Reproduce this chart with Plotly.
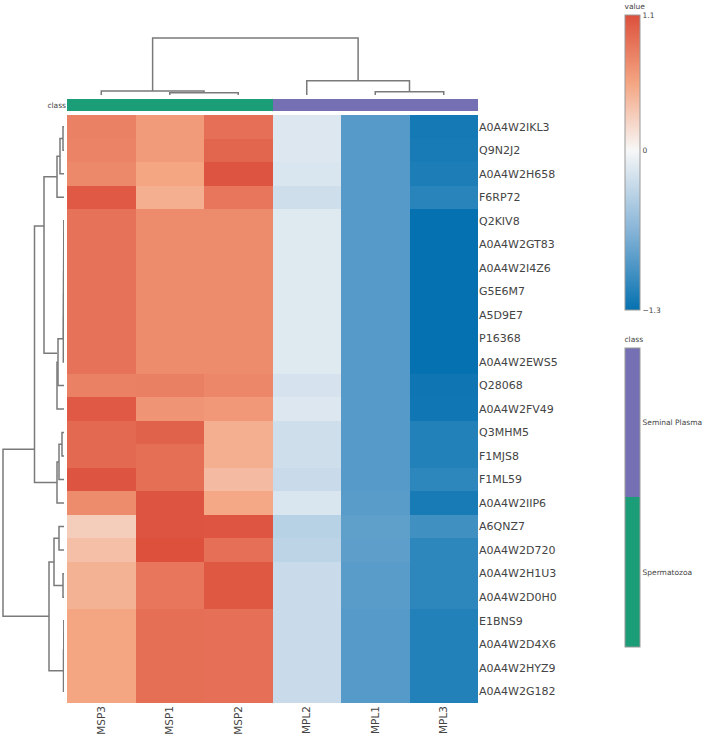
import plotly.graph_objects as go

# ---------------- data ----------------
rows = ["A0A4W2IKL3", "Q9N2J2", "A0A4W2H658", "F6RP72", "Q2KIV8", "A0A4W2GT83",
        "A0A4W2I4Z6", "G5E6M7", "A5D9E7", "P16368", "A0A4W2EWS5", "Q28068",
        "A0A4W2FV49", "Q3MHM5", "F1MJS8", "F1ML59", "A0A4W2IIP6", "A6QNZ7",
        "A0A4W2D720", "A0A4W2H1U3", "A0A4W2D0H0", "E1BNS9", "A0A4W2D4X6",
        "A0A4W2HYZ9", "A0A4W2G182"]
cols = ["MSP3", "MSP1", "MSP2", "MPL2", "MPL1", "MPL3"]
col_class = ["Spermatozoa", "Spermatozoa", "Spermatozoa",
             "Seminal Plasma", "Seminal Plasma", "Seminal Plasma"]

MSP3 = [0.78, 0.76, 0.73, 1.04, 0.87, 0.87, 0.87, 0.87, 0.87, 0.87, 0.87, 0.78, 1.04,
        0.94, 0.94, 1.07, 0.71, 0.28, 0.38, 0.46, 0.46, 0.55, 0.55, 0.55, 0.55]
MSP1 = [0.61, 0.61, 0.55, 0.48, 0.71, 0.71, 0.71, 0.71, 0.71, 0.71, 0.71, 0.79, 0.66,
        0.98, 0.90, 0.90, 1.07, 1.07, 1.10, 0.85, 0.85, 0.90, 0.90, 0.90, 0.90]
MSP2 = [0.89, 0.96, 1.07, 0.85, 0.71, 0.71, 0.71, 0.71, 0.71, 0.71, 0.71, 0.74, 0.63,
        0.48, 0.48, 0.40, 0.53, 1.06, 0.89, 1.05, 1.05, 0.89, 0.89, 0.89, 0.89]
MPL2 = [-0.16, -0.16, -0.17, -0.24, -0.14, -0.14, -0.14, -0.14, -0.14, -0.14, -0.14, -0.19, -0.16,
        -0.24, -0.24, -0.27, -0.17, -0.37, -0.34, -0.27, -0.27, -0.27, -0.27, -0.27, -0.27]
MPL1 = [-0.90, -0.90, -0.90, -0.90, -0.90, -0.90, -0.90, -0.90, -0.90, -0.90, -0.90, -0.90, -0.90,
        -0.90, -0.90, -0.90, -0.88, -0.85, -0.86, -0.88, -0.88, -0.90, -0.90, -0.90, -0.90]
MPL3 = [-1.22, -1.20, -1.18, -1.12, -1.30, -1.30, -1.30, -1.30, -1.30, -1.30, -1.30, -1.25, -1.24,
        -1.15, -1.15, -1.10, -1.20, -1.00, -1.10, -1.10, -1.10, -1.15, -1.15, -1.15, -1.15]

# dendrogram merges: [left, right, height]; ids >= n_leaves refer to earlier merges
col_links = [[1, 2, 0.23], [0, 6, 0.40], [4, 5, 0.33], [3, 8, 1.43], [7, 9, 5.70]]
row_links = [
    [0, 1, 0.10], [25, 2, 0.40], [26, 3, 0.70],                  # 25,26,27
    [4, 5, 0.02], [28, 6, 0.03], [29, 7, 0.04], [30, 8, 0.05],     # 28..31
    [31, 9, 0.06], [32, 10, 0.07], [33, 11, 0.60], [34, 12, 0.70],  # 32..35
    [27, 35, 2.00],                                              # 36
    [13, 14, 0.20], [37, 15, 0.50], [38, 16, 0.70],              # 37..39
    [36, 39, 2.95],                                              # 40
    [17, 18, 0.50], [19, 20, 0.10], [41, 42, 1.00],              # 41..43
    [21, 22, 0.02], [44, 23, 0.03], [45, 24, 0.05],              # 44..46
    [43, 46, 1.50],                                              # 47
    [40, 47, 6.10],                                              # 48
]
# attachment positions (row-index units) of branches as drawn in the source dendrogram
# (nodes not listed are centred between their two children)
row_node_pos = {35: 9.63, 36: 4.22, 40: 13.71}

# ---------------- layout constants ----------------
W, H = 704, 739
def px(x): return x / W
def py(y): return 1 - y / H

LINE = dict(color="#7a7a7a", width=1.5)
FONT = dict(family="DejaVu Sans, Verdana, sans-serif", size=11, color="#444")
SMALL = dict(family="DejaVu Sans, Verdana, sans-serif", size=7.5, color="#444")

value_scale = [[0.0, "rgb(5,113,176)"], [0.27, "rgb(135,180,215)"],
               [0.5417, "rgb(247,247,247)"], [0.77, "rgb(244,165,130)"],
               [1.0, "rgb(220,80,60)"]]
class_colors = {"Spermatozoa": "#1B9E77", "Seminal Plasma": "#7570B3"}


def dendro(links, n, pos_override=None):
    pos_override = pos_override or {}
    pos = list(range(n))
    hts = [0.0] * n
    a_pos, a_ht = [], []
    for k, (a, b, h) in enumerate(links):
        a_pos += [pos[a], pos[a], pos[b], pos[b], None]
        a_ht += [hts[a], h, h, hts[b], None]
        node = n + k
        pos.append(pos_override.get(node, (pos[a] + pos[b]) / 2))
        hts.append(h)
    return a_pos, a_ht


z = [[MSP3[i], MSP1[i], MSP2[i], MPL2[i], MPL1[i], MPL3[i]] for i in range(len(rows))]

fig = go.Figure()

fig.add_trace(go.Heatmap(
    z=z, x=list(range(len(cols))), y=list(range(len(rows))),
    zmin=-1.3, zmax=1.1, colorscale=value_scale, xaxis="x", yaxis="y",
    colorbar=dict(title=dict(text="value", side="top", font=SMALL),
                  x=px(625), xanchor="left", xpad=0, y=py(1), yanchor="top", ypad=0,
                  len=309 / H, lenmode="fraction", thickness=15,
                  outlinewidth=1, outlinecolor="#999",
                  tickvals=[-1.3, 0, 1.1], ticktext=["\u22121.3", "0", "1.1"],
                  tickfont=SMALL),
))

cls_codes = [1 if c == "Seminal Plasma" else 0 for c in col_class]
fig.add_trace(go.Heatmap(
    z=[cls_codes], x=list(range(len(cols))), y=[0], zmin=0, zmax=1,
    colorscale=[[0, class_colors["Spermatozoa"]], [0.5, class_colors["Spermatozoa"]],
                [0.5, class_colors["Seminal Plasma"]], [1, class_colors["Seminal Plasma"]]],
    xaxis="x2", yaxis="y2",
    colorbar=dict(title=dict(text="class", side="top", font=SMALL),
                  x=px(625), xanchor="left", xpad=0, y=py(334), yanchor="top", ypad=0,
                  len=(647 - 334) / H, lenmode="fraction", thickness=15,
                  outlinewidth=1, outlinecolor="#999",
                  tickvals=[0.25, 0.75], ticktext=["Spermatozoa", "Seminal Plasma"],
                  tickfont=SMALL),
))

cx, cy = dendro(col_links, len(cols))
fig.add_trace(go.Scatter(x=cx, y=cy, mode="lines", line=LINE, xaxis="x3", yaxis="y3",
                         hoverinfo="skip", showlegend=False, cliponaxis=False))
ry, rx = dendro(row_links, len(rows), row_node_pos)
fig.add_trace(go.Scatter(x=rx, y=ry, mode="lines", line=LINE, xaxis="x4", yaxis="y4",
                         hoverinfo="skip", showlegend=False, cliponaxis=False))

hx = [px(67), px(478)]
hide = dict(showgrid=False, zeroline=False, showticklabels=False, ticks="", showline=False)
root_row = row_links[-1][2]
root_col = col_links[-1][2]

fig.update_layout(
    width=W, height=H, margin=dict(l=0, r=0, t=0, b=0, pad=0),
    paper_bgcolor="white", plot_bgcolor="white", font=FONT, showlegend=False,
    xaxis=dict(domain=hx, range=[-0.5, 5.5], tickvals=list(range(len(cols))), ticktext=cols,
               tickangle=-90, showgrid=False, zeroline=False, ticks="", anchor="y",
               tickfont=dict(size=10.5, color="#444")),
    yaxis=dict(domain=[py(703), py(115)], range=[len(rows) - 0.5, -0.5],
               tickvals=list(range(len(rows))), ticktext=rows, side="right",
               showgrid=False, zeroline=False, ticks="", anchor="x",
               tickfont=dict(size=11, color="#444")),
    xaxis2=dict(domain=hx, range=[-0.5, 5.5], anchor="y2", **hide),
    yaxis2=dict(domain=[py(111), py(99)], range=[-0.5, 0.5], tickvals=[0], ticktext=["class"],
                showgrid=False, zeroline=False, ticks="", anchor="x2", tickfont=SMALL),
    xaxis3=dict(domain=hx, range=[-0.5, 5.5], anchor="y3", **hide),
    yaxis3=dict(domain=[py(95), py(35)], range=[0, root_col * 60 / 57], anchor="x3", **hide),
    xaxis4=dict(domain=[px(0), px(64)], range=[root_row * 64 / 61, 0], anchor="y4", **hide),
    yaxis4=dict(domain=[py(703), py(115)], range=[len(rows) - 0.5, -0.5], anchor="x4", **hide),
)

fig.write_html("out.html")
